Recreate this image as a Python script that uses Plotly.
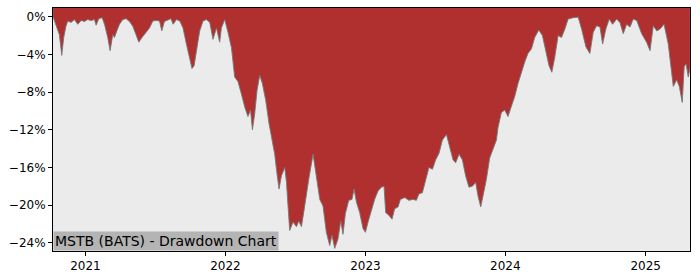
import datetime as dt
import plotly.graph_objects as go

# Dates as decimal years, drawdown values in percent
t_years = [
    2020.769, 2020.790, 2020.814, 2020.831, 2020.845, 2020.861, 2020.874, 2020.897, 2020.921, 2020.945,
    2020.969, 2020.993, 2021.016, 2021.040, 2021.064, 2021.076, 2021.095, 2021.119, 2021.136, 2021.159,
    2021.176, 2021.195, 2021.207, 2021.224, 2021.243, 2021.266, 2021.290, 2021.314, 2021.338, 2021.361,
    2021.381, 2021.404, 2021.429, 2021.457, 2021.481, 2021.504, 2021.529, 2021.545, 2021.564, 2021.588,
    2021.611, 2021.626, 2021.650, 2021.674, 2021.697, 2021.721, 2021.745, 2021.761, 2021.776, 2021.793,
    2021.816, 2021.840, 2021.864, 2021.888, 2021.911, 2021.936, 2021.959, 2021.971, 2021.995, 2022.019,
    2022.043, 2022.066, 2022.090, 2022.114, 2022.138, 2022.161, 2022.179, 2022.193, 2022.209, 2022.226,
    2022.245, 2022.264, 2022.288, 2022.311, 2022.329, 2022.352, 2022.366, 2022.383, 2022.400, 2022.424,
    2022.436, 2022.459, 2022.483, 2022.507, 2022.524, 2022.543, 2022.561, 2022.579, 2022.597, 2022.626,
    2022.650, 2022.674, 2022.697, 2022.721, 2022.745, 2022.761, 2022.781, 2022.804, 2022.824, 2022.840,
    2022.857, 2022.881, 2022.904, 2022.919, 2022.936, 2022.959, 2022.983, 2023.000, 2023.019, 2023.043,
    2023.066, 2023.090, 2023.114, 2023.133, 2023.145, 2023.169, 2023.190, 2023.209, 2023.233, 2023.250,
    2023.281, 2023.311, 2023.340, 2023.364, 2023.383, 2023.407, 2023.436, 2023.454, 2023.479, 2023.502,
    2023.526, 2023.550, 2023.579, 2023.602, 2023.626, 2023.645, 2023.669, 2023.693, 2023.716, 2023.740,
    2023.764, 2023.788, 2023.804, 2023.824, 2023.845, 2023.864, 2023.888, 2023.911, 2023.936, 2023.947,
    2023.971, 2023.995, 2024.019, 2024.043, 2024.066, 2024.090, 2024.114, 2024.138, 2024.161, 2024.186,
    2024.209, 2024.238, 2024.264, 2024.288, 2024.311, 2024.331, 2024.352, 2024.376, 2024.400, 2024.424,
    2024.447, 2024.483, 2024.519, 2024.543, 2024.574, 2024.602, 2024.626, 2024.650, 2024.674, 2024.693,
    2024.716, 2024.740, 2024.764, 2024.793, 2024.816, 2024.840, 2024.864, 2024.888, 2024.911, 2024.936,
    2024.971, 2025.006, 2025.031, 2025.054, 2025.079, 2025.102, 2025.131, 2025.161, 2025.197, 2025.221,
    2025.240, 2025.261, 2025.275, 2025.288, 2025.304, 2025.316,
]
drawdown = [
    0.0, -0.8, -1.9, -4.1, -2.2, -1.0, -0.45, -0.6, -0.3, -0.8,
    -0.4, -0.5, -0.3, -0.4, -0.3, -0.9, -0.2, -0.1, -0.8, -2.2,
    -3.6, -1.9, -2.2, -1.5, -0.8, -0.3, -0.2, -0.5, -1.0, -1.9,
    -2.7, -2.2, -1.7, -1.2, -0.45, -0.4, -0.45, -1.5, -0.5, -0.3,
    -0.2, -0.8, -0.3, -0.45, -1.2, -2.9, -4.3, -5.5, -5.2, -3.6,
    -1.5, -0.45, -0.3, -0.6, -2.4, -1.2, -2.7, -1.2, -0.3, -1.7,
    -3.3, -6.4, -6.9, -8.2, -9.6, -10.6, -9.9, -12.0, -10.3, -7.8,
    -6.2, -7.1, -8.9, -11.3, -12.7, -14.6, -16.4, -18.3, -16.9, -16.0,
    -17.6, -22.7, -21.8, -22.3, -21.7, -22.3, -20.6, -18.7, -17.1, -14.6,
    -16.9, -19.4, -20.1, -22.9, -24.3, -23.2, -24.6, -23.6, -21.7, -23.1,
    -20.9, -19.5, -19.4, -18.3, -19.7, -20.8, -22.5, -22.9, -21.8, -20.6,
    -19.4, -18.5, -18.1, -18.0, -20.8, -21.1, -21.5, -20.4, -20.2, -19.4,
    -19.2, -19.5, -19.4, -19.5, -18.8, -18.7, -17.1, -16.0, -16.2, -15.2,
    -14.5, -13.1, -12.5, -13.9, -15.2, -15.5, -14.6, -15.2, -16.9, -18.1,
    -18.0, -17.6, -19.0, -20.2, -18.7, -17.3, -15.0, -14.1, -13.1, -11.8,
    -10.2, -9.9, -10.6, -9.5, -8.5, -7.1, -5.9, -4.8, -3.9, -3.4,
    -2.2, -1.4, -2.0, -3.6, -5.2, -5.9, -4.3, -2.0, -2.2, -1.3,
    -0.25, -0.1, -0.05, -1.3, -3.2, -3.9, -1.65, -0.95, -1.1, -2.9,
    -1.3, -0.25, -0.8, -0.25, -0.6, -1.8, -0.8, -1.1, -0.25, -0.4,
    -1.8, -2.7, -3.6, -0.95, -1.5, -1.3, -0.8, -2.9, -7.4, -6.7,
    -7.4, -9.1, -5.3, -5.0, -6.4, -5.5,
]
y_ticks = [0, -4, -8, -12, -16, -20, -24]
y_tick_labels = ["0%", "−4%", "−8%", "−12%", "−16%", "−20%", "−24%"]
x_tick_years = [2021, 2022, 2023, 2024, 2025]
title_text = "MSTB (BATS) - Drawdown Chart"
y_range = [-24.88, 0.93]
x_range_years = [2020.7686, 2025.3164]


def to_date(t):
    y = int(t)
    start = dt.datetime(y, 1, 1)
    end = dt.datetime(y + 1, 1, 1)
    return start + (end - start) * (t - y)


dates = [to_date(t) for t in t_years]

fig = go.Figure()
# upper boundary of the filled region: top of the axis
fig.add_trace(go.Scatter(
    x=dates, y=[y_range[1] + 1] * len(dates), mode="lines",
    line=dict(width=0, color="rgba(0,0,0,0)"),
    hoverinfo="skip", showlegend=False,
))
fig.add_trace(go.Scatter(
    x=dates, y=drawdown, mode="lines", fill="tonexty",
    fillcolor="#B03030", line=dict(color="rgba(120,120,120,0.9)", width=1),
    hoverinfo="skip", showlegend=False,
))

fig.update_layout(
    width=700, height=280,
    margin=dict(l=53, r=10, t=7, b=28),
    paper_bgcolor="white", plot_bgcolor="#EBEBEB",
    font=dict(family="DejaVu Sans", size=12, color="black"),
    xaxis=dict(
        range=[to_date(x_range_years[0]), to_date(x_range_years[1])],
        tickvals=[dt.datetime(y, 1, 1) for y in x_tick_years],
        ticktext=[str(y) for y in x_tick_years],
        showgrid=False, zeroline=False,
        showline=True, linecolor="black", linewidth=1, mirror=True,
        ticks="outside", ticklen=4, tickcolor="black",
    ),
    yaxis=dict(
        range=y_range,
        tickvals=y_ticks, ticktext=y_tick_labels,
        showgrid=False, zeroline=False,
        showline=True, linecolor="black", linewidth=1, mirror=True,
        ticks="outside", ticklen=4, tickcolor="black",
    ),
    annotations=[dict(
        text=title_text, xref="x domain", yref="y domain",
        x=0.0, y=0.0, xanchor="left", yanchor="bottom",
        showarrow=False, bgcolor="#B4B4B4",
        font=dict(family="DejaVu Sans", size=14, color="black"),
        borderpad=1,
    )],
)

fig.write_html("out.html")
